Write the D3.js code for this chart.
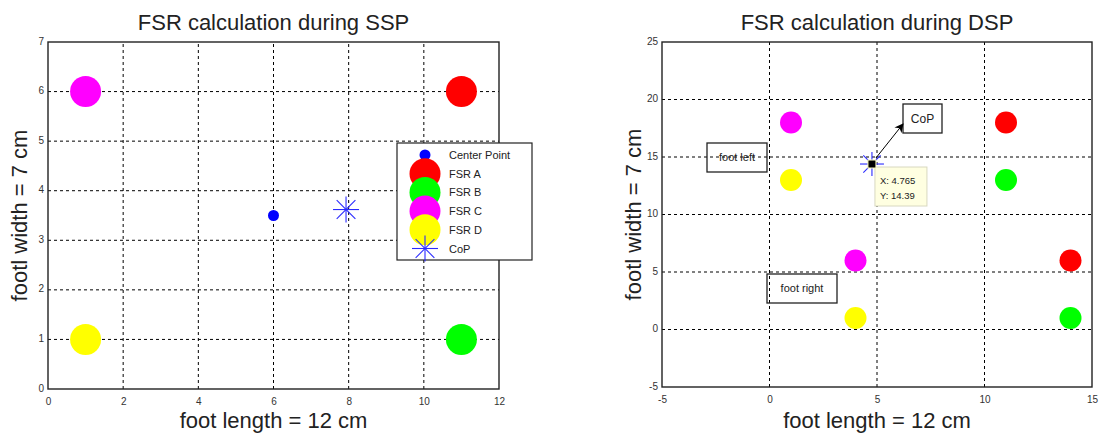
<!DOCTYPE html>
<html>
<head>
<meta charset="utf-8">
<script src="https://cdn.jsdelivr.net/npm/d3@7"></script>
<style>
  body { margin: 0; background: #fff; }
  text { font-family: "Liberation Sans", Arial, sans-serif; }
</style>
</head>
<body>
<div class="chart"></div>
<script>
const svgWidth = 1099
const svgHeight = 434

// ---- data ----
// SSP (single support phase)
const fsrNames = ["FSR A", "FSR B", "FSR C", "FSR D"]
const sspFsrX = [11, 11, 1, 1]
const sspFsrY = [6, 1, 6, 1]
const sspCenter = [6, 3.5]
const sspCop = [7.93, 3.62]
const sspXTicks = [0, 2, 4, 6, 8, 10, 12]
const sspYTicks = [0, 1, 2, 3, 4, 5, 6, 7]

// DSP (double support phase): left foot then right foot
const dspFsrX = [11, 11, 1, 1, 14, 14, 4, 4]
const dspFsrY = [18, 13, 18, 13, 6, 1, 6, 1]
const dspFsrName = ["FSR A", "FSR B", "FSR C", "FSR D", "FSR A", "FSR B", "FSR C", "FSR D"]
const dspCop = [4.765, 14.39]
const dspXTicks = [-5, 0, 5, 10, 15]
const dspYTicks = [-5, 0, 5, 10, 15, 20, 25]

const fsrColor = { "FSR A": "#ff0000", "FSR B": "#00ff00", "FSR C": "#ff00ff", "FSR D": "#ffff00" }
const copColor = "#2a2aff"

let svg = d3.select(".chart").append("svg")
  .attr("width", svgWidth)
  .attr("height", svgHeight)

svg.append("defs").append("marker")
  .attr("id", "arrow")
  .attr("viewBox", "0 0 10 10")
  .attr("refX", 9).attr("refY", 5)
  .attr("markerWidth", 9).attr("markerHeight", 9)
  .attr("markerUnits", "userSpaceOnUse")
  .attr("orient", "auto")
  .append("path").attr("d", "M0,0 L10,5 L0,10 L3,5 Z").attr("fill", "#000")

// draws a MATLAB style '*' marker
function star(g, cx, cy, r, color) {
  let d = r * 0.72
  let s = g.append("g").attr("stroke", color).attr("stroke-width", 1.1)
  s.append("line").attr("x1", cx - r).attr("x2", cx + r).attr("y1", cy).attr("y2", cy)
  s.append("line").attr("x1", cx).attr("x2", cx).attr("y1", cy - r).attr("y2", cy + r)
  s.append("line").attr("x1", cx - d).attr("x2", cx + d).attr("y1", cy - d).attr("y2", cy + d)
  s.append("line").attr("x1", cx - d).attr("x2", cx + d).attr("y1", cy + d).attr("y2", cy - d)
}

function makeAxes(x, y, xTicks, yTicks, title) {
  let [x0, x1] = x.range()
  let [y0, y1] = y.range()
  let g = svg.append("g")

  // dashed grid on interior ticks
  g.selectAll(".gx").data(xTicks.slice(1, -1)).enter().append("line")
    .attr("x1", d => x(d)).attr("x2", d => x(d))
    .attr("y1", y0).attr("y2", y1)
    .attr("stroke", "#000").attr("stroke-dasharray", "3,3")
  g.selectAll(".gy").data(yTicks.slice(1, -1)).enter().append("line")
    .attr("y1", d => y(d)).attr("y2", d => y(d))
    .attr("x1", x0).attr("x2", x1)
    .attr("stroke", "#000").attr("stroke-dasharray", "3,3")

  let fmt = d => String(d)
  let xa = g.append("g").attr("transform", `translate(0, ${y0})`)
    .call(d3.axisBottom(x).tickValues(xTicks).tickFormat(fmt).tickSize(0).tickPadding(9))
  let ya = g.append("g").attr("transform", `translate(${x0}, 0)`)
    .call(d3.axisLeft(y).tickValues(yTicks).tickFormat(fmt).tickSize(0).tickPadding(4))
  ;[xa, ya].forEach(a => {
    a.select(".domain").remove()
    a.selectAll("text").attr("font-size", 10).attr("fill", "#333")
      .style("font-family", "Liberation Sans, Arial, sans-serif")
  })
  ya.selectAll("text").attr("dy", "0.2em")

  g.append("rect")
    .attr("x", x0).attr("y", y1)
    .attr("width", x1 - x0).attr("height", y0 - y1)
    .attr("fill", "none").attr("stroke", "#222").attr("stroke-width", 1.4)

  let mid = (x0 + x1) / 2
  svg.append("text").attr("x", mid).attr("y", 29.5)
    .attr("text-anchor", "middle").attr("font-size", 22).attr("fill", "#222")
    .text(title)
  svg.append("text").attr("x", mid).attr("y", 428)
    .attr("text-anchor", "middle").attr("font-size", 22).attr("fill", "#222")
    .text("foot length = 12 cm")
  svg.append("text").attr("transform", `translate(${x0 - 21}, ${(y0 + y1) / 2}) rotate(-90)`)
    .attr("text-anchor", "middle").attr("font-size", 22).attr("fill", "#222")
    .text("footl width = 7 cm")
  return g
}

// ================= left: SSP =================
let xL = d3.scaleLinear().domain([0, 12]).range([48, 499])
let yL = d3.scaleLinear().domain([0, 7]).range([389, 42])
makeAxes(xL, yL, sspXTicks, sspYTicks, "FSR calculation during SSP")

let left = svg.append("g")
left.append("circle").attr("cx", xL(sspCenter[0])).attr("cy", yL(sspCenter[1]))
  .attr("r", 5.5).attr("fill", "#0000ff")
left.selectAll(".fsr").data(fsrNames).enter().append("circle")
  .attr("cx", (d, i) => xL(sspFsrX[i])).attr("cy", (d, i) => yL(sspFsrY[i]))
  .attr("r", 15.5).attr("fill", d => fsrColor[d])
star(left, xL(sspCop[0]), yL(sspCop[1]), 13, copColor)

// legend
let leg = svg.append("g").attr("transform", "translate(397, 143)")
leg.append("rect").attr("width", 135).attr("height", 117)
  .attr("fill", "#fff").attr("stroke", "#222").attr("stroke-width", 1.2)
const legendRows = ["Center Point"].concat(fsrNames, ["CoP"])
legendRows.forEach((name, i) => {
  let cy = 12 + i * 18.7
  if (name === "Center Point") {
    leg.append("circle").attr("cx", 28).attr("cy", cy).attr("r", 5.5).attr("fill", "#0000ff")
  } else if (name === "CoP") {
    star(leg, 28, cy, 13, copColor)
  } else {
    leg.append("circle").attr("cx", 28).attr("cy", cy).attr("r", 15.5).attr("fill", fsrColor[name])
  }
})
legendRows.forEach((name, i) => {
  leg.append("text").attr("x", 52).attr("y", 12 + i * 18.7 + 4)
    .attr("font-size", 11).attr("fill", "#222").text(name)
})

// ================= right: DSP =================
let xR = d3.scaleLinear().domain([-5, 15]).range([662, 1092])
let yR = d3.scaleLinear().domain([-5, 25]).range([387, 42])
makeAxes(xR, yR, dspXTicks, dspYTicks, "FSR calculation during DSP")

let right = svg.append("g")
right.selectAll(".fsr").data(dspFsrName).enter().append("circle")
  .attr("cx", (d, i) => xR(dspFsrX[i])).attr("cy", (d, i) => yR(dspFsrY[i]))
  .attr("r", 11).attr("fill", d => fsrColor[d])

let cx = xR(dspCop[0]), cy = yR(dspCop[1])
star(right, cx, cy, 12, copColor)

// text boxes
function textBox(x, y, w, h, label, size) {
  right.append("rect").attr("x", x).attr("y", y).attr("width", w).attr("height", h)
    .attr("fill", "none").attr("stroke", "#222").attr("stroke-width", 1.3)
  right.append("text").attr("x", x + w / 2).attr("y", y + h / 2 + size * 0.36)
    .attr("text-anchor", "middle").attr("font-size", size).attr("fill", "#222").text(label)
}
textBox(707, 143, 60, 29, "foot left", 11)
textBox(767, 274, 70, 29, "foot right", 11)
textBox(903, 104, 39, 29, "CoP", 12)

// arrow to CoP annotation
right.append("line").attr("x1", cx + 4).attr("y1", cy - 6)
  .attr("x2", 903).attr("y2", 124)
  .attr("stroke", "#000").attr("stroke-width", 1).attr("marker-end", "url(#arrow)")

// data tip
right.append("rect").attr("x", cx + 3).attr("y", cy + 3).attr("width", 52).attr("height", 39)
  .attr("fill", "#ffffe1").attr("stroke", "#d8d8c0")
right.append("text").attr("x", cx + 8).attr("y", cy + 20)
  .attr("font-size", 9.5).attr("fill", "#222").text("X: " + dspCop[0])
right.append("text").attr("x", cx + 8).attr("y", cy + 35)
  .attr("font-size", 9.5).attr("fill", "#222").text("Y: " + dspCop[1])
right.append("rect").attr("x", cx - 4).attr("y", cy - 4).attr("width", 8).attr("height", 8)
  .attr("fill", "#000").attr("stroke", "#ffffc0").attr("stroke-width", 1)
</script>
</body>
</html>
